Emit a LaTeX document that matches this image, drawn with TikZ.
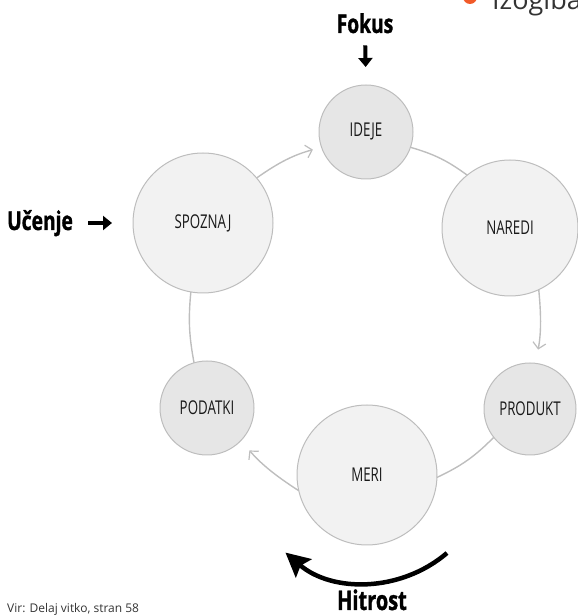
\documentclass[tikz,border=0pt]{standalone}
\usepackage{fontspec}
\setmainfont{Open Sans}
\newfontfamily\condfont[FakeStretch=0.7]{Open Sans}
\newfontfamily\headfont[FakeStretch=0.74,BoldFeatures={FakeBold=1.2}]{Open Sans}
\usetikzlibrary{arrows.meta}

\definecolor{rim}{HTML}{BDBDBD}
\definecolor{linkgray}{HTML}{BEBEBE}
\definecolor{darkfill}{HTML}{E6E6E6}
\definecolor{lightfill}{HTML}{F2F2F2}
\definecolor{bullet}{HTML}{F15A29}

\begin{document}
\begin{tikzpicture}[x=1pt,y=1pt,
    stage/.style={circle,draw=rim,line width=1pt,inner sep=0pt,outer sep=0pt,
      font=\condfont\fontsize{19}{19}\selectfont,text=black!90},
    smallstage/.style={stage,fill=darkfill,minimum size=94pt},
    bigstage/.style={stage,fill=lightfill,minimum size=140pt},
    link/.style={draw=linkgray,line width=1.4pt},
    linkarrow/.style={link,-{Straight Barb[length=6pt,width=13pt,line width=1.2pt]}},
    bigword/.style={inner sep=0pt,font=\headfont\bfseries\fontsize{26}{26}\selectfont},
    fatarrow/.style={line width=4pt,-{Triangle[length=9pt,width=14pt]}}]
  \useasboundingbox (0,0) rectangle (578,616);

  \node[smallstage] (ideje) at (366,484) {IDEJE};
  \node[bigstage,minimum size=136pt] (naredi) at (510,388) {NAREDI};
  \node[smallstage,minimum size=92pt] (produkt) at (530,207) {PRODUKT};
  \node[bigstage] (meri) at (367,141) {MERI};
  \node[smallstage] (podatki) at (207,208) {PODATKI};
  \node[bigstage] (spoznaj) at (203,393) {SPOZNAJ};

  \draw[linkarrow,shorten >=9pt] (spoznaj.40) to[bend left=10] (ideje.199);
  \draw[link] (ideje.-19) to[bend left=10] (naredi.129);
  \draw[linkarrow,shorten >=14pt] (naredi.-65) to[bend left=8] (produkt.83);
  \draw[link] (produkt.218) to[bend left=10] (meri.-2);
  \draw[linkarrow,shorten >=13pt] (meri.193) to[bend left=8] (podatki.-44);
  \draw[link] (podatki.106) to[bend left=8] (spoznaj.-100);

  \node[bigword,anchor=base] (fokus) at (365,583) {Fokus};
  \draw[fatarrow,shorten <=12pt,shorten >=18pt] (fokus.south) -- (ideje.north);

  \node[bigword,anchor=base west] (ucenje) at (7,386) {Učenje};
  \draw[fatarrow,shorten <=15pt,shorten >=21pt] (spoznaj.west -| ucenje.east) -- (spoznaj.west);

  \node[bigword,anchor=base,font=\headfont\bfseries\fontsize{27}{27}\selectfont] (hitrost) at (372,6) {Hitrost};
  \coordinate (sweepstart) at (447,63);
  \draw[line width=4.5pt,-{Stealth[length=24pt,width=24pt,inset=4pt]}]
    (sweepstart) arc[start angle=-49.5,end angle=-130.8,radius=124];

  \node[anchor=base west,inner sep=0pt,font=\fontsize{12}{12}\selectfont,text=black!80] (source) at (7,4) {Vir: Delaj vitko, stran 58};

  \node[circle,fill=bullet,inner sep=0pt,minimum size=14pt] (dot) at (470,619) {};
  \node[anchor=base west,inner sep=0pt,font=\fontsize{27}{27}\selectfont,text=black!80] (izogibaj) at (492,606) {Izogibaj};
\end{tikzpicture}
\end{document}
